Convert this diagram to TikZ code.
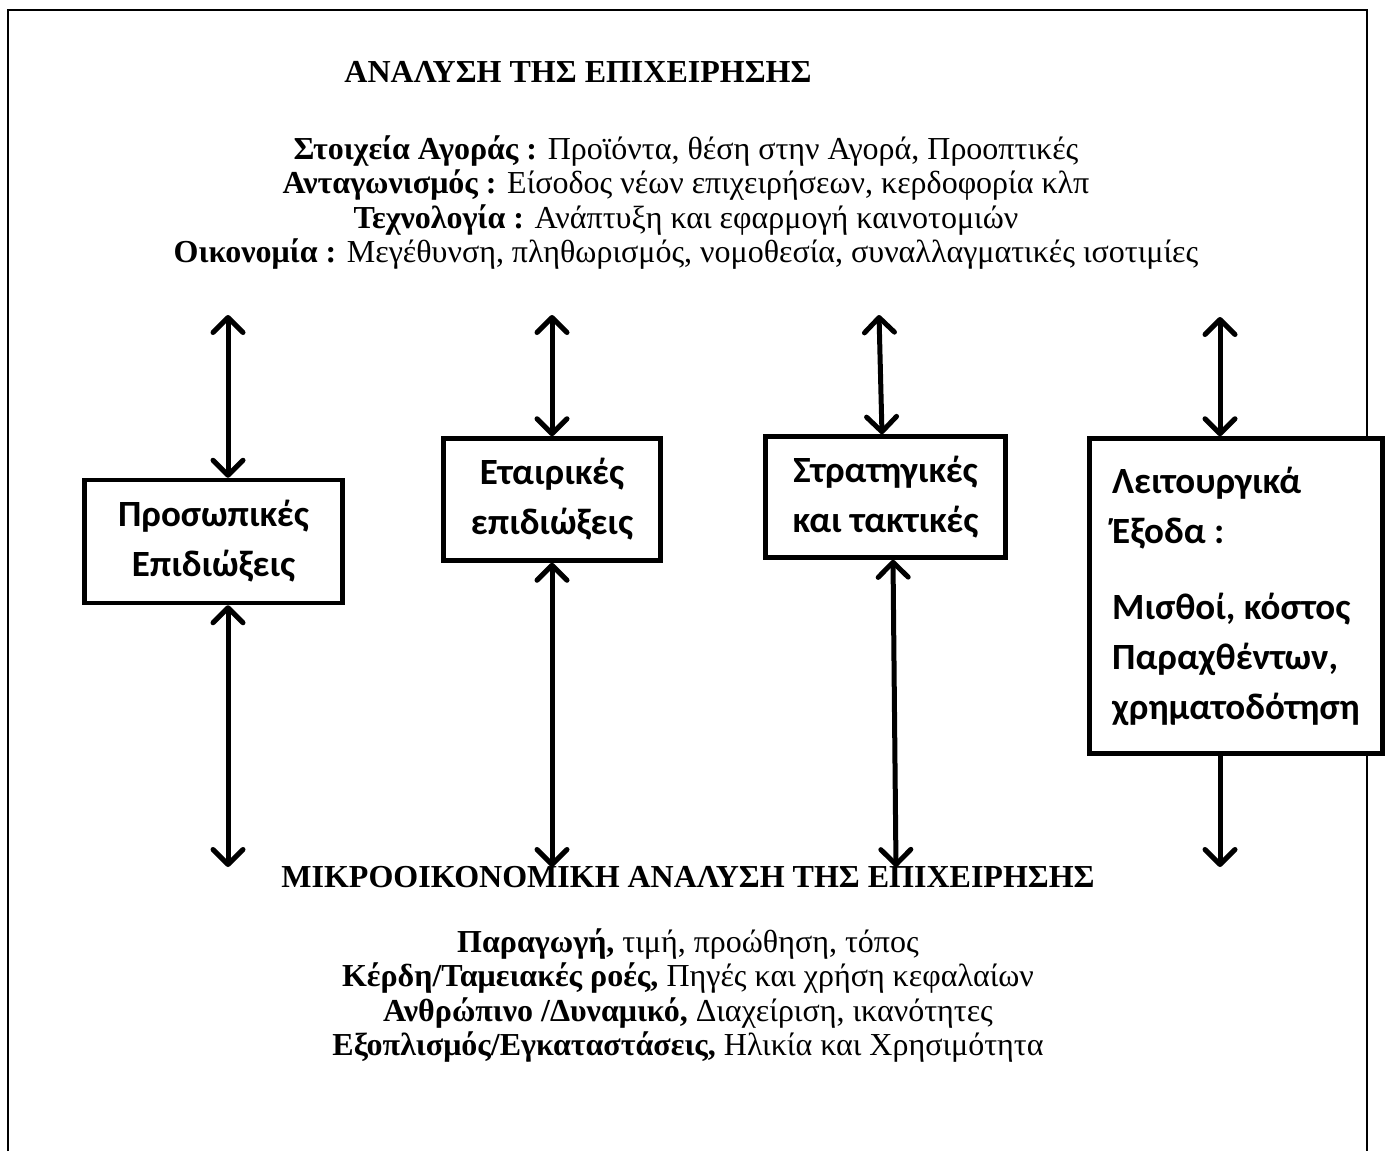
\documentclass[tikz,border=0pt]{standalone}
\usepackage{fontspec}
\setmainfont{Liberation Serif}
\newfontfamily\boxfont{Carlito}
\usetikzlibrary{positioning, arrows.meta}

\begin{document}
\begin{tikzpicture}[x=1pt, y=-1pt] % 1 px of the sheet = 1 pt
		% Styles
		\tikzset{
			box/.style={draw, line width=4.5pt, fill=white, inner sep=0pt, align=center, font=\boxfont\bfseries\fontsize{37}{50}\selectfont},
			arrow/.style={<->, line width=5pt, >={Straight Barb[length=15pt, width=30pt, line cap=round, line join=round]}},
			heading/.style={font=\bfseries\fontsize{32}{34}\selectfont},
			facts/.style={anchor=north, inner sep=0pt, align=center, font=\fontsize{32}{34.3}\selectfont}
		}
		\useasboundingbox (0,0) rectangle (1389,1151);
		
		% Frame, open at the bottom
		\draw[line width=2.5pt] (8,1151) -- (8,10) -- (1367,10) -- (1367,1151);
		
		% Top: analysis of the firm
		\node[heading] (Macro_Title) at (578, 72) {ΑΝΑΛΥΣΗ ΤΗΣ ΕΠΙΧΕΙΡΗΣΗΣ};
		\node[facts] (Macro_Facts) at (686, 135.5) {
			\textbf{Στοιχεία Αγοράς :} Προϊόντα, θέση στην Αγορά, Προοπτικές \\
			\textbf{Ανταγωνισμός :} Είσοδος νέων επιχειρήσεων, κερδοφορία κλπ \\
			\textbf{Τεχνολογία :} Ανάπτυξη και εφαρμογή καινοτομιών \\
			\textbf{Οικονομία :} Μεγέθυνση, πληθωρισμός, νομοθεσία, συναλλαγματικές ισοτιμίες
		};
		
		% Four boxes in the middle row
		\node[box, minimum width=258pt, minimum height=123pt] (Personal) at (213.5, 541.5) {Προσωπικές \\ Επιδιώξεις};
		\node[box, minimum width=217pt, minimum height=122pt] (Corporate) at (552, 499.5) {Εταιρικές \\ επιδιώξεις};
		\node[box, minimum width=240pt, minimum height=121pt] (Strategy) at (885.5, 497) {Στρατηγικές \\ και τακτικές};
		\node[box, align=left, minimum width=293pt, minimum height=315pt] (Outputs) at (1236, 596) {
			Λειτουργικά \\
			Έξοδα : \\[26pt]
			Μισθοί, κόστος \\
			Παραχθέντων, \\
			χρηματοδότηση
		};
		
		% Bottom: microeconomic analysis
		\node[heading] (Micro_Title) at (688, 877) {ΜΙΚΡΟΟΙΚΟΝΟΜΙΚΗ ΑΝΑΛΥΣΗ ΤΗΣ ΕΠΙΧΕΙΡΗΣΗΣ};
		\node[facts] (Micro_Facts) at (688, 928.5) {
			\textbf{Παραγωγή,} τιμή, προώθηση, τόπος \\
			\textbf{Κέρδη/Ταμειακές ροές,} Πηγές και χρήση κεφαλαίων \\
			\textbf{Ανθρώπινο /Δυναμικό,} Διαχείριση, ικανότητες \\
			\textbf{Εξοπλισμός/Εγκαταστάσεις,} Ηλικία και Χρησιμότητα
		};
		
		% Free ends of the arrows
		\coordinate (Top1) at (228, 315);
		\coordinate (Top2) at (552, 315);
		\coordinate (Top3) at (879, 315);
		\coordinate (Top4) at (1220, 317);
		\coordinate (Bot1) at (228, 867);
		\coordinate (Bot2) at (552, 867);
		\coordinate (Bot3) at (896, 867);
		\coordinate (Bot4) at (1220, 867);
		
		% Arrows up to the analysis of the firm
		\draw[arrow] (Top1) -- (Top1 |- Personal.north);
		\draw[arrow] (Top2) -- (Corporate.north);
		\draw[arrow] (Top3) -- ([xshift=-3.5pt]Strategy.north);
		\draw[arrow] (Top4) -- (Top4 |- Outputs.north);
		
		% Arrows down to the microeconomic analysis
		\draw[arrow] (Bot1 |- Personal.south) -- (Bot1);
		\draw[arrow] (Corporate.south) -- (Bot2);
		\draw[arrow] ([xshift=7.5pt]Strategy.south) -- (Bot3);
		\draw[arrow, <-] (Bot4) -- (Bot4 |- Outputs.south);
		
	\end{tikzpicture}
\end{document}
